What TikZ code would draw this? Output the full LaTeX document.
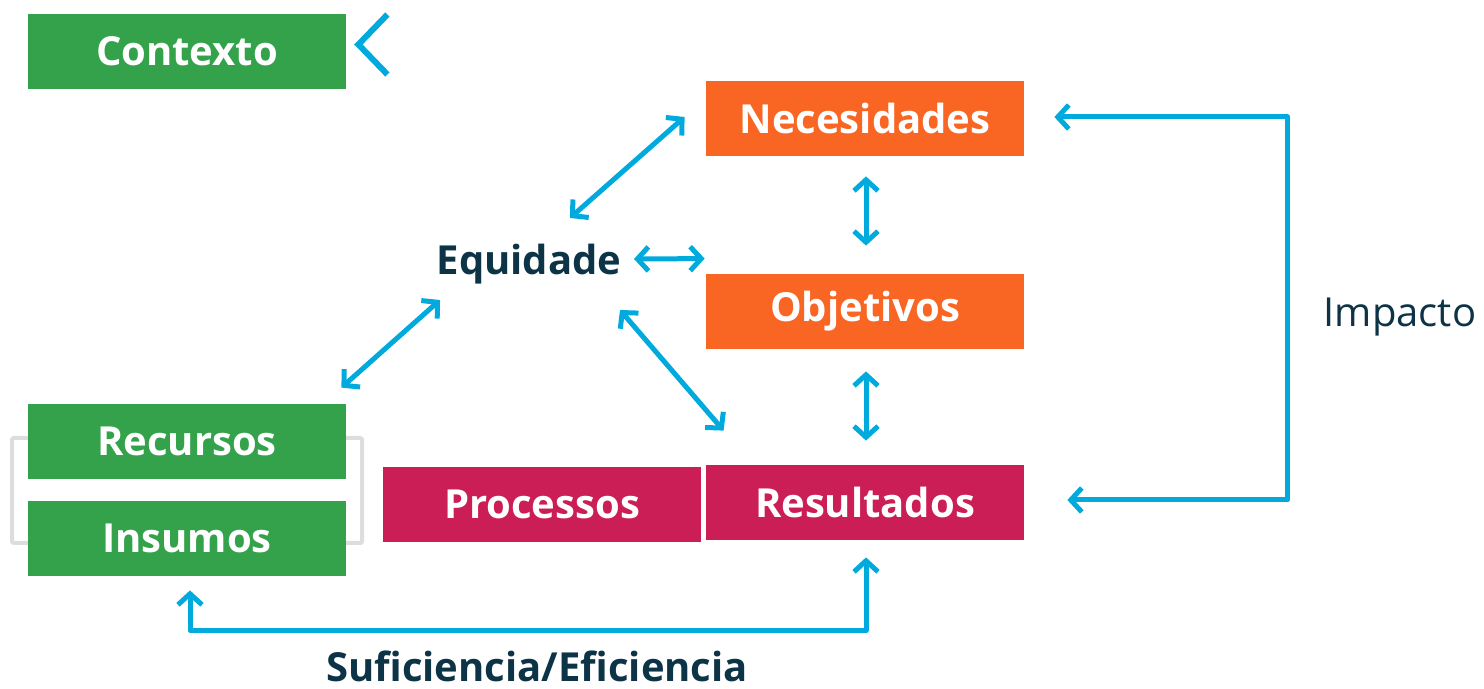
\documentclass[tikz,border=0pt]{standalone}
\usepackage{fontspec}
\setmainfont{Open Sans}
\usetikzlibrary{arrows.meta,calc,positioning}
\definecolor{Green}{HTML}{34A24B}
\definecolor{Orange}{HTML}{F96623}
\definecolor{Crimson}{HTML}{CC1E56}
\definecolor{Cyan}{HTML}{00AADD}
\definecolor{Navy}{HTML}{0D3347}
\definecolor{GrayLight}{HTML}{DDDDDD}

\begin{document}
\begin{tikzpicture}[x=.5pt,y=-.5pt,
    box/.style={fill=#1,minimum width=159pt,minimum height=37.5pt,inner sep=0pt,
      text=white,font=\bfseries\fontsize{20}{24}\selectfont},
    tag/.style={text=Navy,font=\fontsize{20}{24}\selectfont},
    link/.style={draw=Cyan,line width=2.5pt,line cap=round,line join=round,
      {Straight Barb[length=5.5pt,width=12pt]}-{Straight Barb[length=5.5pt,width=12pt]}}]
  \useasboundingbox (0,0) rectangle (1484,689);
  % frame behind the two input boxes
  \draw[GrayLight,line width=2pt,rounded corners=1pt](12,438)rectangle(362,543);
  \node[box=Green](ctx)at(187,51.5){Contexto};
  \node[box=Green](rec)at(187,441.5){Recursos};
  \node[box=Green](ins)at(187,538.5){Insumos};
  \node[box=Orange](nec)at(865,118.5){Necesidades};
  \node[box=Orange](obj)at(865,311.5){Objetivos};
  \node[box=Crimson](res)at(865,502.5){Resultados};
  \node[box=Crimson](proc)at(542,504.5){Processos};
  \node[tag,font=\bfseries\fontsize{20}{24}\selectfont](eq)at(529,264){Equidade};
  \node[tag](imp)at(1400,317){Impacto};
  \node[tag,font=\bfseries\fontsize{20}{24}\selectfont](suf)at(537,666){Suficiencia/Eficiencia};
  % chevron next to the context box
  \draw[Cyan,line width=3pt]($(ctx.east)+(41,-37)$)--++(-29,30)--++(29,30);
  % links around the equity label
  \draw[link]($(nec.west)+(-21,-1.5)$)--($(eq)+(41,-46)$);
  \draw[link]($(eq)+(105,-5)$)--($(obj.north west)+(-1,-15)$);
  \draw[link]($(eq)+(-89,36)$)--($(rec.north east)+(-5,-16)$);
  \draw[link]($(eq)+(91,46)$)--($(res.north west)+(18,-34)$);
  \draw[link]($(nec.south)+(1,20)$)--($(obj.north)+(1,-28)$);
  \draw[link]($(obj.south)+(1,22)$)--($(res.north)+(1,-24)$);
  % feedback loops
  \draw[link]($(nec.east)+(30,-1.5)$)--++(233,0)|-($(res.east)+(43,-2.5)$);
  \draw[link]($(ins.south)+(3,14)$)--++(0,40)-|($(res.south)+(1,17)$);
\end{tikzpicture}
\end{document}
